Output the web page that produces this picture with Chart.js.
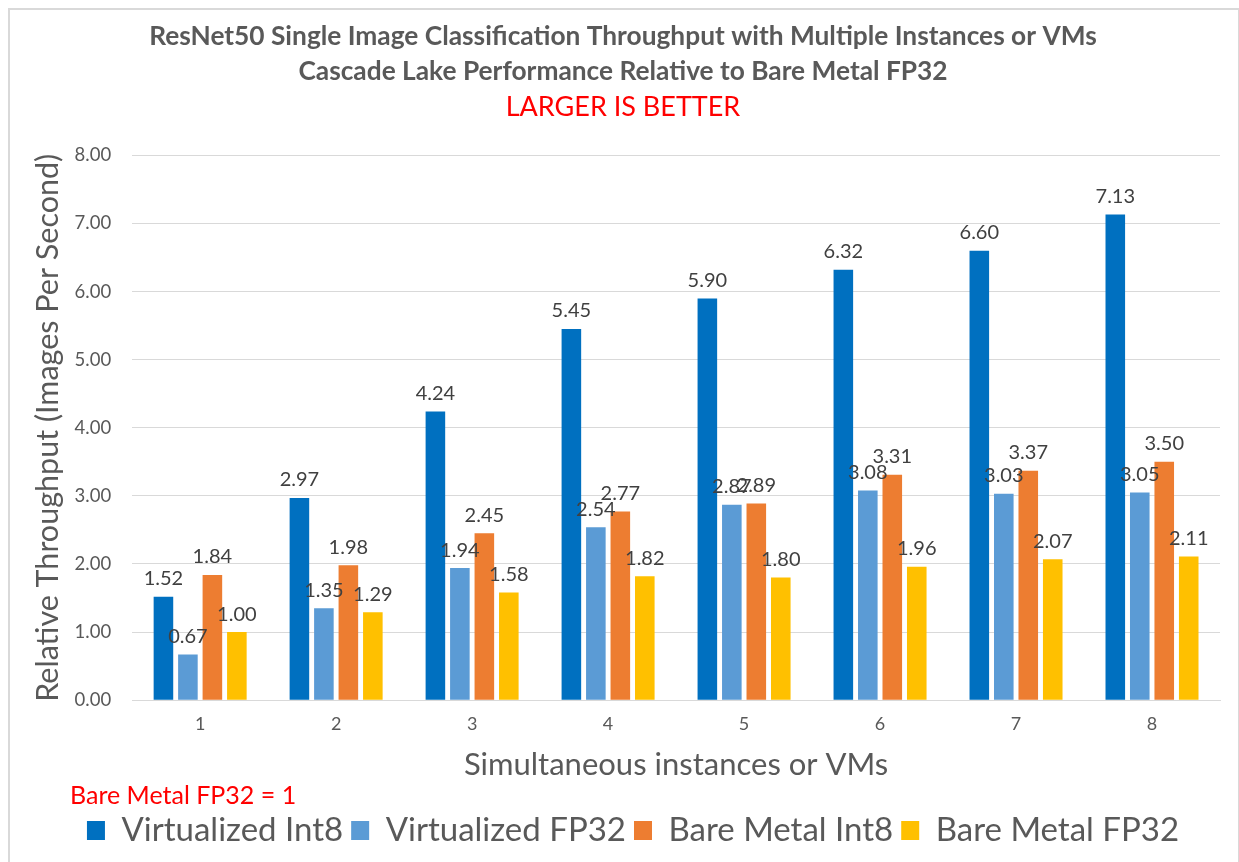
<!DOCTYPE html>
<html>
<head>
<meta charset="utf-8">
<script src="https://cdn.jsdelivr.net/npm/chart.js@4.4.1/dist/chart.umd.min.js"></script>
<style>
    html, body { margin: 0; padding: 0; background: #fff; overflow: hidden; }
    .chart-frame {
        position: absolute;
        left: 8px; top: 8px;
        width: 1228px; height: 860px;
        border: 2px solid #d9d9d9;
        border-bottom: none;
        background: #fff;
    }
    .chart-frame canvas { display: block; }
</style>
</head>
<body>
<div class="chart-frame">
    <canvas id="throughputChart" width="1228" height="851"></canvas>
</div>
<script>
// Dados
const instances = ['1', '2', '3', '4', '5', '6', '7', '8'];
const virtualizedInt8 = [1.52, 2.97, 4.24, 5.45, 5.90, 6.32, 6.60, 7.13];
const virtualizedFp32 = [0.67, 1.35, 1.94, 2.54, 2.87, 3.08, 3.03, 3.05];
const bareMetalInt8 = [1.84, 1.98, 2.45, 2.77, 2.89, 3.31, 3.37, 3.50];
const bareMetalFp32 = [1.00, 1.29, 1.58, 1.82, 1.80, 1.96, 2.07, 2.11];
const yTicks = [0, 1, 2, 3, 4, 5, 6, 7, 8];

const FONT = 'Lato, "Open Sans", sans-serif';
const GRAY = '#595959';

// Rótulos de valor acima de cada barra
const valueLabels = {
    id: 'valueLabels',
    afterDatasetsDraw(chart) {
        const ctx = chart.ctx;
        ctx.save();
        ctx.font = `20px ${FONT}`;
        ctx.fillStyle = '#404040';
        ctx.textAlign = 'center';
        ctx.textBaseline = 'bottom';
        chart.data.datasets.forEach((ds, i) => {
            chart.getDatasetMeta(i).data.forEach((bar, j) => {
                ctx.fillText(ds.data[j].toFixed(2), bar.x, bar.y - 8);
            });
        });
        ctx.restore();
    }
};

// Nota em vermelho logo acima da legenda + pequeno ajuste horizontal da legenda
const baseNote = {
    id: 'baseNote',
    afterLayout(chart) {
        chart.legend.left += 10;
        chart.legend.right += 10;
    },
    afterDraw(chart) {
        const ctx = chart.ctx;
        ctx.save();
        ctx.font = `25px ${FONT}`;
        ctx.fillStyle = '#ff0000';
        ctx.textAlign = 'left';
        ctx.textBaseline = 'middle';
        ctx.fillText('Bare Metal FP32 = 1', 60, chart.legend.top - 10);
        ctx.restore();
    }
};

const ctx = document.getElementById('throughputChart').getContext('2d');
new Chart(ctx, {
    type: 'bar',
    data: {
        labels: instances,
        datasets: [
            { label: 'Virtualized Int8', data: virtualizedInt8, backgroundColor: '#0070C0' },
            { label: 'Virtualized FP32', data: virtualizedFp32, backgroundColor: '#5B9BD5' },
            { label: 'Bare Metal Int8', data: bareMetalInt8, backgroundColor: '#ED7D31' },
            { label: 'Bare Metal FP32', data: bareMetalFp32, backgroundColor: '#FFC000' }
        ]
    },
    options: {
        responsive: false,
        animation: false,
        datasets: {
            bar: { categoryPercentage: 0.72, barPercentage: 0.8 }
        },
        layout: { padding: { left: 16, right: 18, top: 6, bottom: 4 } },
        scales: {
            x: {
                grid: { display: false },
                border: { color: '#d9d9d9', width: 1 },
                ticks: { color: GRAY, font: { family: FONT, size: 18 }, padding: 5 },
                title: {
                    display: true,
                    text: 'Simultaneous instances or VMs',
                    color: GRAY,
                    font: { family: FONT, size: 31 },
                    padding: { top: 7, bottom: 22 }
                }
            },
            y: {
                min: 0,
                max: 8,
                afterBuildTicks: axis => { axis.ticks = yTicks.map(v => ({ value: v })); },
                grid: { color: '#d9d9d9', drawTicks: false },
                border: { display: false },
                ticks: {
                    color: GRAY,
                    font: { family: FONT, size: 18.5 },
                    padding: 21,
                    callback: v => Number(v).toFixed(2)
                },
                title: {
                    display: true,
                    text: 'Relative Throughput (Images Per Second)',
                    color: GRAY,
                    font: { family: FONT, size: 30.5 },
                    padding: { top: 4, bottom: -13 }
                }
            }
        },
        plugins: {
            title: {
                display: true,
                text: [
                    'ResNet50 Single Image Classification Throughput with Multiple Instances or VMs',
                    'Cascade Lake Performance Relative to Bare Metal FP32'
                ],
                color: GRAY,
                font: { family: FONT, size: 26.3, weight: 'bold', lineHeight: 1.33 },
                padding: { top: 3, bottom: 0 }
            },
            subtitle: {
                display: true,
                text: 'LARGER IS BETTER',
                color: '#ff0000',
                font: { family: FONT, size: 27 },
                padding: { top: 2, bottom: 32 }
            },
            legend: {
                position: 'bottom',
                labels: {
                    boxWidth: 18,
                    boxHeight: 19,
                    padding: 8,
                    color: GRAY,
                    font: { family: FONT, size: 33 }
                }
            },
            tooltip: { enabled: false }
        }
    },
    plugins: [valueLabels, baseNote]
});
</script>
</body>
</html>
